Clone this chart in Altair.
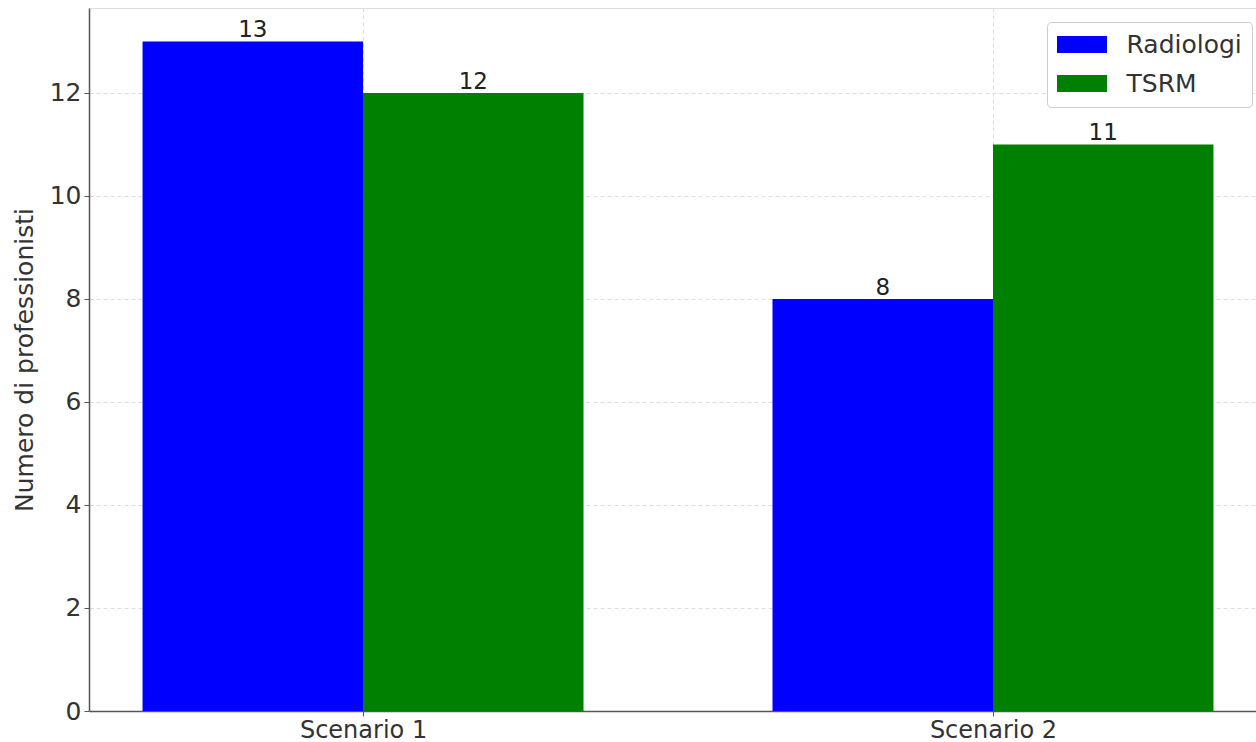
import altair as alt
import pandas as pd

scenarios = ["Scenario 1", "Scenario 2"]
groups = ["Radiologi", "TSRM"]
radiologi = [13, 8]
tsrm = [12, 11]
colors = ["#0000ff", "#008000"]
bar_w = 0.35

rows = []
for i, s in enumerate(scenarios):
    for g, vals, off in ((groups[0], radiologi, -1), (groups[1], tsrm, 0)):
        x0 = i + off * bar_w
        rows.append({"scenario": s, "group": g, "value": vals[i],
                     "x0": x0, "x1": x0 + bar_w, "xc": x0 + bar_w / 2})
df = pd.DataFrame(rows)

font = "DejaVu Sans"
xscale = alt.Scale(domain=[-0.435, 1.4175], nice=False, zero=False)
yscale = alt.Scale(domain=[0, 13.65], nice=False)

base = alt.Chart(df)

bars = base.mark_bar(stroke=None).encode(
    x=alt.X("x0:Q", scale=xscale,
            axis=alt.Axis(values=[0, 1], title=None,
                          labelExpr="datum.value == 0 ? 'Scenario 1' : 'Scenario 2'",
                          labelFontSize=24, labelFont=font, labelColor="#333",
                          labelPadding=2, tickSize=5, tickColor="#555",
                          domainColor="#555", domainWidth=1.5,
                          grid=True, gridDash=[4, 3], gridColor="#ddd")),
    x2="x1:Q",
    y=alt.Y("value:Q", scale=yscale,
            axis=alt.Axis(values=[0, 2, 4, 6, 8, 10, 12], title="Numero di professionisti",
                          titleFontSize=25, titleFont=font, titleFontWeight="normal",
                          titleColor="#333", titlePadding=12,
                          labelFontSize=25, labelFont=font, labelColor="#333",
                          labelPadding=3, tickSize=5, tickColor="#555",
                          domainColor="#555", domainWidth=1.5,
                          grid=True, gridDash=[4, 3], gridColor="#ddd")),
    y2=alt.datum(0),
    color=alt.Color("group:N", scale=alt.Scale(domain=groups, range=colors),
                    legend=alt.Legend(title=None, orient="none", legendX=958, legendY=14,
                                      labelFontSize=25, labelFont=font, labelColor="#333",
                                      symbolType="M-2,-0.68L2,-0.68L2,0.68L-2,0.68Z",
                                      symbolSize=625, symbolStrokeWidth=0,
                                      symbolOpacity=1, symbolOffset=12.5,
                                      rowPadding=13, labelOffset=32,
                                      padding=10, strokeColor="#ccc",
                                      fillColor="white", cornerRadius=4)),
)

labels = base.mark_text(baseline="alphabetic", dy=-4, fontSize=23, font=font, color="#222").encode(
    x="xc:Q",
    y="value:Q",
    text="value:Q",
)

chart = (bars + labels).properties(
    width=1167, height=703,
    autosize=alt.AutoSizeParams(type="none"),
    padding={"left": 89, "top": 8, "right": 0, "bottom": 31},
).configure_view(stroke=None).configure(background="white")

chart.save("out.html", embed_options={"renderer": "svg", "actions": False})
